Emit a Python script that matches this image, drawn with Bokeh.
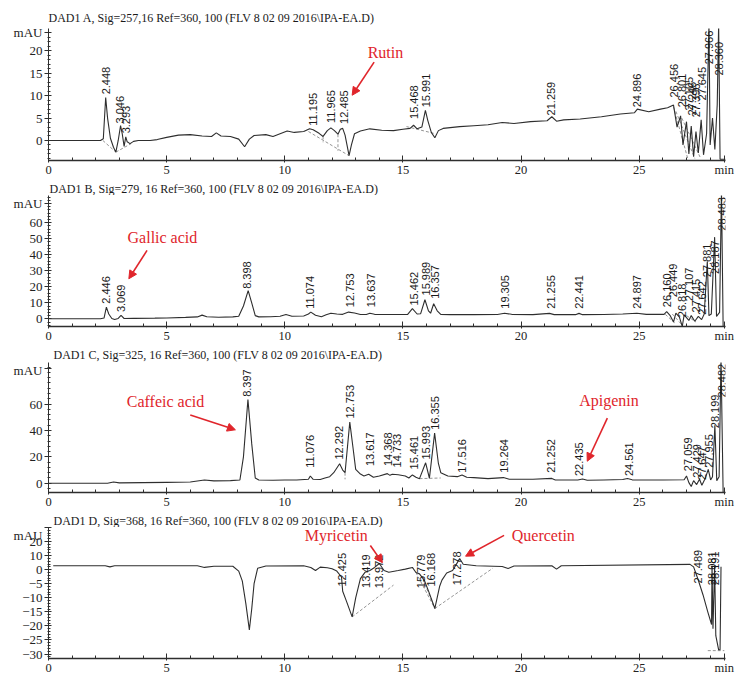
import math
from bokeh.plotting import figure
from bokeh.models import (Range1d, FixedTicker, Label, LabelSet, Arrow, NormalHead, ColumnDataSource,
                          Title, AllLabels)
from bokeh.layouts import column
from bokeh.embed import file_html
from bokeh.resources import INLINE
from bokeh.core.properties import value

# ---------------- data ----------------
x_major = [0, 5, 10, 15, 20, 25]
x_minor = list(range(0, 29))
x_unit = "min"

titles = [
    "DAD1 A, Sig=257,16 Ref=360, 100 (FLV 8 02 09 2016\\IPA-EA.D)",
    "DAD1 B, Sig=279, 16 Ref=360, 100 (FLV 8 02 09 2016\\IPA-EA.D)",
    "DAD1 C, Sig=325, 16 Ref=360, 100 (FLV 8 02 09 2016\\IPA-EA.D)",
    "DAD1 D, Sig=368, 16 Ref=360, 100 (FLV 8 02 09 2016\\IPA-EA.D)",
]
y_unit = "mAU"

# Panel A  (time min, mAU)
A_trace = [(0.0, 0.0), (2.2, 0.0), (2.32, 0.4), (2.42, 9.6), (2.5, 5.0), (2.62, 0.5), (2.75, -1.5),
           (2.85, -2.6), (2.95, 0.0), (3.05, 3.3), (3.12, 1.5), (3.2, -1.3), (3.27, 0.8), (3.33, -0.3),
           (3.45, -0.7), (3.6, -0.2), (3.8, 0.0), (4.3, 0.0), (4.6, 0.2), (5.0, 0.7), (5.5, 1.2),
           (6.0, 1.3), (6.5, 1.0), (6.9, 0.9), (7.1, 1.7), (7.3, 1.0), (7.7, 0.9), (8.05, 0.3),
           (8.3, -1.4), (8.5, 0.3), (8.7, 1.1), (9.2, 1.3), (9.5, 0.9), (9.8, 1.5), (10.1, 2.1),
           (10.4, 1.8), (10.8, 2.0), (11.05, 2.6), (11.2, 2.4), (11.45, 1.6), (11.62, 0.9), (11.8, 2.2),
           (11.95, 2.8), (12.1, 2.2), (12.25, 1.4), (12.35, 2.5), (12.45, 2.7), (12.55, 1.2),
           (12.65, -1.5), (12.72, -3.4), (12.82, -1.0), (12.95, 1.5), (13.2, 2.1), (13.6, 2.6),
           (14.1, 2.3), (14.6, 2.2), (15.0, 2.5), (15.3, 2.7), (15.45, 3.4), (15.6, 2.6), (15.8, 3.0),
           (15.95, 6.7), (16.05, 4.5), (16.2, 1.8), (16.35, 0.6), (16.5, 2.2), (16.7, 2.7), (17.4, 3.1),
           (18.0, 3.3), (18.6, 3.5), (19.2, 4.0), (19.7, 3.8), (20.4, 4.2), (21.1, 4.4), (21.3, 5.3),
           (21.5, 4.3), (21.8, 4.6), (22.5, 4.8), (23.4, 5.3), (24.2, 5.9), (24.8, 6.2), (24.92, 7.0),
           (25.4, 6.4), (25.9, 7.0), (26.2, 7.3), (26.45, 7.9), (26.6, 3.0), (26.75, 5.5), (26.85, -1.0),
           (27.0, 4.2), (27.1, -3.0), (27.2, 3.2), (27.3, -3.6), (27.4, 2.0), (27.5, -2.8), (27.62, 4.6),
           (27.72, -3.2), (27.85, 1.5), (27.95, 26.0), (28.0, -1.0), (28.1, 5.0), (28.2, -2.0),
           (28.3, 8.0), (28.36, 26.0), (28.42, -4.2), (28.65, -4.2)]
A_peaks = ["2.448", "3.046", "3.293", "11.195", "11.965", "12.485", "15.468", "15.991", "21.259",
           "24.896", "26.456", "26.801", "27.105", "27.246", "27.396", "27.645", "27.966", "28.360"]
A_label_y = [10.3, 3.8, 1.6, 3.3, 3.9, 3.7, 4.8, 7.4, 5.6, 7.4, 9.6, 7.4, 6.7, 5.6, 5.2, 8.9, 17.0, 14.5]
A_baselines = [(2.3, 0.0, 2.85, -2.6), (2.85, -2.6, 3.5, -0.7), (11.0, 2.0, 12.72, -3.4),
               (11.62, 0.9, 11.62, -0.4), (12.25, 1.4, 12.25, -2.3), (15.15, 3.1, 16.3, 1.6),
               (26.45, 7.5, 27.05, -4.0), (26.55, 6.5, 27.35, -4.0), (26.8, 5.0, 27.6, -4.0)]
A_yticks = [0, 5, 10, 15, 20]

# Panel B
B_trace = [(0.0, 0.0), (2.2, 0.0), (2.35, 0.5), (2.45, 7.3), (2.55, 3.0), (2.68, 0.2), (2.8, -0.4),
           (2.95, 0.2), (3.07, 2.1), (3.2, 0.2), (3.6, 0.3), (4.5, 0.4), (5.0, 0.5), (5.8, 0.9),
           (6.3, 1.2), (6.5, 2.3), (6.7, 1.3), (7.2, 1.0), (7.8, 1.2), (8.05, 1.6), (8.25, 8.0),
           (8.45, 17.6), (8.6, 10.0), (8.75, 2.0), (8.9, 1.2), (9.4, 1.3), (9.8, 1.6), (10.05, 2.7),
           (10.3, 1.6), (10.8, 1.8), (11.0, 3.0), (11.1, 4.2), (11.3, 2.2), (11.55, 1.3), (11.75, 2.5),
           (11.95, 3.5), (12.2, 3.0), (12.45, 2.8), (12.7, 4.2), (12.95, 3.6), (13.2, 2.7), (13.45, 2.7),
           (13.6, 3.5), (13.8, 2.8), (14.5, 2.7), (15.2, 2.8), (15.4, 6.4), (15.6, 3.0), (15.75, 3.2),
           (15.93, 11.9), (16.08, 5.0), (16.17, 3.5), (16.3, 9.4), (16.45, 5.0), (16.6, 2.7), (17.0, 2.6),
           (18.0, 2.6), (19.0, 2.7), (19.3, 3.5), (19.6, 2.8), (20.5, 2.6), (21.2, 3.4), (21.4, 2.6),
           (22.3, 2.6), (22.45, 3.4), (22.6, 2.6), (23.5, 2.7), (24.3, 3.0), (24.9, 3.5), (25.3, 2.8),
           (26.05, 2.8), (26.16, 4.5), (26.3, 2.2), (26.45, -2.0), (26.55, 3.5), (26.7, 1.0),
           (26.82, -4.8), (26.9, 2.5), (27.1, -1.0), (27.2, 2.0), (27.35, -1.5), (27.5, 1.5),
           (27.64, -0.5), (27.75, 3.0), (27.88, 36.0), (27.95, 2.0), (28.05, 3.0), (28.19, 51.0),
           (28.27, 1.5), (28.4, 4.0), (28.48, 80.0), (28.55, -4.8), (28.65, -4.8)]
B_peaks = ["2.446", "3.069", "8.398", "11.074", "12.753", "13.637", "15.462", "15.989", "16.357",
           "19.305", "21.255", "22.441", "24.897", "26.160", "26.449", "26.818", "27.107", "27.415",
           "27.642", "27.881", "28.187", "28.483"]
B_label_y = [9.4, 4.2, 18.7, 6.3, 7.3, 7.3, 8.3, 14.6, 12.5, 6.3, 6.3, 6.3, 6.3, 7.3, 13.5, 1.0,
             11.0, 4.0, 2.5, 26.0, 28.0, 55.0]
B_baselines = [(26.1, 2.8, 26.5, -2.5), (26.4, 3.0, 26.85, -4.5), (27.0, 2.0, 27.4, -2.0)]
B_yticks = [0, 10, 20, 30, 40, 50, 60]

# Panel C
C_trace = [(0.0, 0.0), (2.5, 0.0), (2.75, 1.0), (3.0, 0.3), (4.0, 0.5), (5.0, 0.7), (6.0, 1.0),
           (6.6, 2.5), (7.0, 1.8), (7.7, 2.0), (8.1, 2.5), (8.25, 20.0), (8.44, 63.5), (8.6, 30.0),
           (8.75, 4.0), (8.9, 2.5), (9.5, 2.3), (10.0, 2.5), (10.5, 2.5), (11.0, 3.0), (11.08, 5.5),
           (11.2, 3.0), (11.5, 2.8), (11.7, 4.0), (11.9, 5.0), (12.07, 8.0), (12.32, 14.8), (12.45, 10.0),
           (12.55, 8.0), (12.75, 46.3), (12.9, 25.0), (13.0, 10.5), (13.2, 7.0), (13.35, 5.5),
           (13.55, 6.8), (13.75, 4.5), (14.0, 5.5), (14.34, 7.3), (14.45, 6.0), (14.55, 6.8), (14.8, 6.5),
           (15.1, 5.5), (15.25, 4.0), (15.4, 6.3), (15.55, 4.5), (15.7, 3.5), (15.96, 15.5), (16.12, 3.8),
           (16.34, 38.0), (16.5, 15.0), (16.6, 8.0), (16.9, 5.5), (17.3, 5.0), (17.5, 6.3), (17.7, 4.5),
           (18.0, 4.3), (18.6, 3.5), (19.25, 4.3), (19.5, 3.0), (20.5, 3.0), (21.3, 3.7), (21.45, 2.5),
           (22.4, 2.5), (22.6, 3.2), (22.8, 2.3), (23.5, 2.5), (24.3, 2.8), (24.5, 3.6), (24.7, 2.6),
           (26.0, 2.5), (26.9, 2.7), (27.0, 5.5), (27.1, 0.5), (27.2, -2.5), (27.3, 2.0), (27.43, -1.0),
           (27.55, 3.0), (27.65, -1.5), (27.8, 4.0), (27.92, 10.5), (28.02, 2.5), (28.1, 5.0),
           (28.2, 44.0), (28.28, 2.0), (28.38, 5.0), (28.46, 95.0), (28.55, -7.0), (28.65, -7.0)]
C_peaks = ["8.397", "11.076", "12.292", "12.753", "13.617", "14.368", "14.733", "15.461", "15.993",
           "16.355", "17.516", "19.264", "21.252", "22.435", "24.561", "27.059", "27.429", "27.647",
           "27.955", "28.199", "28.482"]
C_label_y = [65.5, 11.7, 18.0, 49.0, 13.0, 13.0, 12.0, 10.5, 18.0, 40.5, 8.0, 8.0, 8.0, 5.5, 5.5,
             9.2, 4.2, 2.5, 11.7, 41.7, 65.0]
C_baselines = [(12.55, 8.0, 12.55, 3.0), (15.7, 3.5, 16.6, 4.0)]
C_yticks = [0, 20, 40, 60]

# Panel D
D_trace = [(0.2, 1.4), (2.4, 1.4), (2.6, 1.0), (2.8, 1.4), (6.3, 1.4), (6.6, 0.8), (7.0, 1.2),
           (7.8, 1.2), (8.05, -0.5), (8.2, -4.0), (8.35, -12.0), (8.5, -21.4), (8.6, -14.0), (8.7, -5.0),
           (8.85, 0.5), (9.2, 1.3), (10.8, 1.4), (11.1, 0.8), (11.3, -0.3), (11.5, 0.9), (11.8, 0.7),
           (12.0, 0.3), (12.2, -0.5), (12.4, -2.6), (12.45, -7.7), (12.6, -11.0), (12.85, -16.8),
           (13.0, -10.0), (13.2, -3.2), (13.4, -0.9), (13.6, -0.3), (13.8, 0.8), (14.0, 2.2),
           (14.2, -0.3), (14.4, -0.9), (14.8, -0.3), (15.1, 0.2), (15.4, 0.8), (15.55, -1.0),
           (15.7, -1.5), (15.9, -3.7), (16.1, -8.0), (16.35, -13.8), (16.55, -6.0), (16.65, -3.7),
           (16.85, -1.2), (17.1, -0.3), (17.3, 2.5), (17.4, 4.0), (17.55, 1.9), (18.1, 1.4),
           (19.2, 1.1), (19.45, 0.4), (19.7, 1.3), (21.3, 1.4), (21.5, 0.2), (21.7, 1.4), (27.15, 1.9),
           (27.3, 1.0), (27.49, -3.5), (27.7, -9.0), (27.9, -15.0), (28.06, -19.5), (28.08, 1.5),
           (28.12, -21.0), (28.19, 1.5), (28.24, -23.5), (28.36, -28.5), (28.42, -28.5), (28.46, 1.0)]
D_peaks = ["12.425", "13.419", "13.972", "15.779", "16.168", "17.278", "27.489", "28.081", "28.191"]
D_label_y = [-6.0, -6.5, -6.6, -6.6, -6.0, -5.5, -4.9, -5.5, -5.5]
D_baselines = [(12.85, -16.8, 14.6, -5.5), (16.35, -13.8, 18.8, 0.5), (15.55, -1.0, 16.35, -13.8),
               (15.85, -3.5, 16.35, -13.8), (27.9, -28.8, 28.6, -28.8)]
D_yticks = [-30, -25, -20, -15, -10, -5, 0, 5, 10]
D_ytick_text = ["\u221230", "\u221225", "\u221220", "\u221215", "\u221210", "\u22125", "0", "10", "20"]

# compound annotations: name, text (t, mAU), arrow tail (t, mAU), arrow head (t, mAU)
A_notes = [("Rutin", 14.26, 19.6, 13.78, 17.5, 12.85, 10.1)]
B_notes = [("Gallic acid", 4.82, 51.0, 4.17, 42.7, 3.40, 25.0)]
C_notes = [("Caffeic acid", 4.95, 61.7, 6.0, 51.75, 7.91, 40.5),
           ("Apigenin", 23.72, 63.0, 23.65, 49.3, 22.8, 16.7)]
D_notes = [("Myricetin", 12.18, 12.0, 13.62, 8.6, 14.13, 2.5),
           ("Quercetin", 20.94, 12.0, 19.28, 12.2, 17.65, 4.8)]

# ---------------- styling ----------------
RED = "#e0252b"
INK = "#2e2e2e"
SERIF = "Liberation Serif"
SANS = "Liberation Sans"
X_END = 28.65
X_UNIT_POS = 28.6
D_TOP = 15.0


def add_title(p, text, place, dx, standoff):
    p.add_layout(Title(text=text, align="left", text_font=SERIF, text_font_size="12px",
                       text_font_style="normal", text_color="#1a1a1a",
                       offset=dx, standoff=standoff), place)


def make_panel(trace, peaks, label_y, baselines, yr, yticks, yminor, ylabels, unit_y, notes,
               height, btop, bbot):
    p = figure(width=744, height=height, x_range=Range1d(0, X_END), y_range=Range1d(*yr),
               output_backend="svg", toolbar_location=None,
               min_border_left=48, min_border_right=19, min_border_top=btop, min_border_bottom=bbot)
    p.outline_line_color = None
    p.xgrid.visible = False
    p.ygrid.visible = False
    p.background_fill_color = "white"

    xa = p.xaxis[0]
    xa.ticker = FixedTicker(ticks=x_major + [X_UNIT_POS], minor_ticks=x_minor)
    xa.major_label_overrides = {X_UNIT_POS: x_unit}
    xa.major_label_policy = AllLabels()
    xa.axis_line_color = INK
    xa.axis_line_width = 1.4
    xa.major_tick_line_color = INK
    xa.minor_tick_line_color = INK
    xa.major_tick_in = 5
    xa.major_tick_out = 2
    xa.minor_tick_in = 3
    xa.minor_tick_out = 0
    xa.major_label_standoff = 0
    xa.major_label_text_font = SERIF
    xa.major_label_text_font_size = "12.5px"
    xa.major_label_text_color = "#222222"

    ya = p.yaxis[0]
    ya.ticker = FixedTicker(ticks=yticks + [unit_y], minor_ticks=yminor)
    labels = ylabels if ylabels else [str(t) for t in yticks]
    ov = {t: s for t, s in zip(yticks, labels)}
    ov[unit_y] = y_unit
    ya.major_label_overrides = ov
    ya.major_label_policy = AllLabels()
    ya.axis_line_color = INK
    ya.major_tick_line_color = INK
    ya.minor_tick_line_color = INK
    ya.major_tick_in = 3
    ya.major_tick_out = 4
    ya.minor_tick_in = 2
    ya.minor_tick_out = 1
    ya.major_label_standoff = 2
    ya.major_label_text_font = SERIF
    ya.major_label_text_font_size = "13px"
    ya.major_label_text_color = "#222222"

    # integration baselines
    if baselines:
        p.segment(x0=[b[0] for b in baselines], y0=[b[1] for b in baselines],
                  x1=[b[2] for b in baselines], y1=[b[3] for b in baselines],
                  line_color="#7a7a7a", line_width=0.8, line_dash="3 2")

    # chromatogram trace
    p.line([q[0] for q in trace], [q[1] for q in trace], line_color=INK, line_width=1.1)

    # peak retention-time labels
    src = ColumnDataSource(dict(x=[float(s) for s in peaks], y=label_y, text=peaks))
    p.add_layout(LabelSet(x="x", y="y", text="text", source=src, angle=math.pi / 2,
                          text_align="left", text_baseline="middle",
                          text_font=value(SANS), text_font_size=value("11px"),
                          text_color=value("#1a1a1a")))

    # compound annotations
    for name, tx, ty, ax0, ay0, ax1, ay1 in notes:
        p.add_layout(Label(x=tx, y=ty, text=name, text_font=SERIF, text_font_size="16px",
                           text_color=RED, text_align="center", text_baseline="middle"))
        p.add_layout(Arrow(end=NormalHead(size=8, fill_color=RED, line_color=RED),
                           x_start=ax0, y_start=ay0, x_end=ax1, y_end=ay1,
                           line_color=RED, line_width=1.6))
    return p


pA = make_panel(A_trace, A_peaks, A_label_y, A_baselines, (-4.47, 25.0),
                A_yticks, list(range(-4, 25)), None, 24, A_notes, 195, 28, 35)
pB = make_panel(B_trace, B_peaks, B_label_y, B_baselines, (-4.8, 77.0),
                B_yticks, list(range(-4, 77, 2)), None, 72, B_notes, 167, 0, 36)
pC = make_panel(C_trace, C_peaks, C_label_y, C_baselines, (-7.0, 91.5),
                C_yticks, list(range(-4, 92, 4)), None, 87, C_notes, 165, 0, 34)
pD = make_panel(D_trace, D_peaks, D_label_y, D_baselines, (-31.6, D_TOP),
                D_yticks, list(range(-31, 15)), D_ytick_text, D_TOP, D_notes, 156, 0, 25)

# each header sits just under the preceding panel's time axis
add_title(pA, titles[0], "above", 0, 7)
add_title(pA, titles[1], "below", 1, 0)
add_title(pB, titles[2], "below", 5, 0)
add_title(pC, titles[3], "below", 5, 0)

layout = column(pA, pB, pC, pD, spacing=0)
open("out.html", "w").write(file_html(layout, INLINE))
